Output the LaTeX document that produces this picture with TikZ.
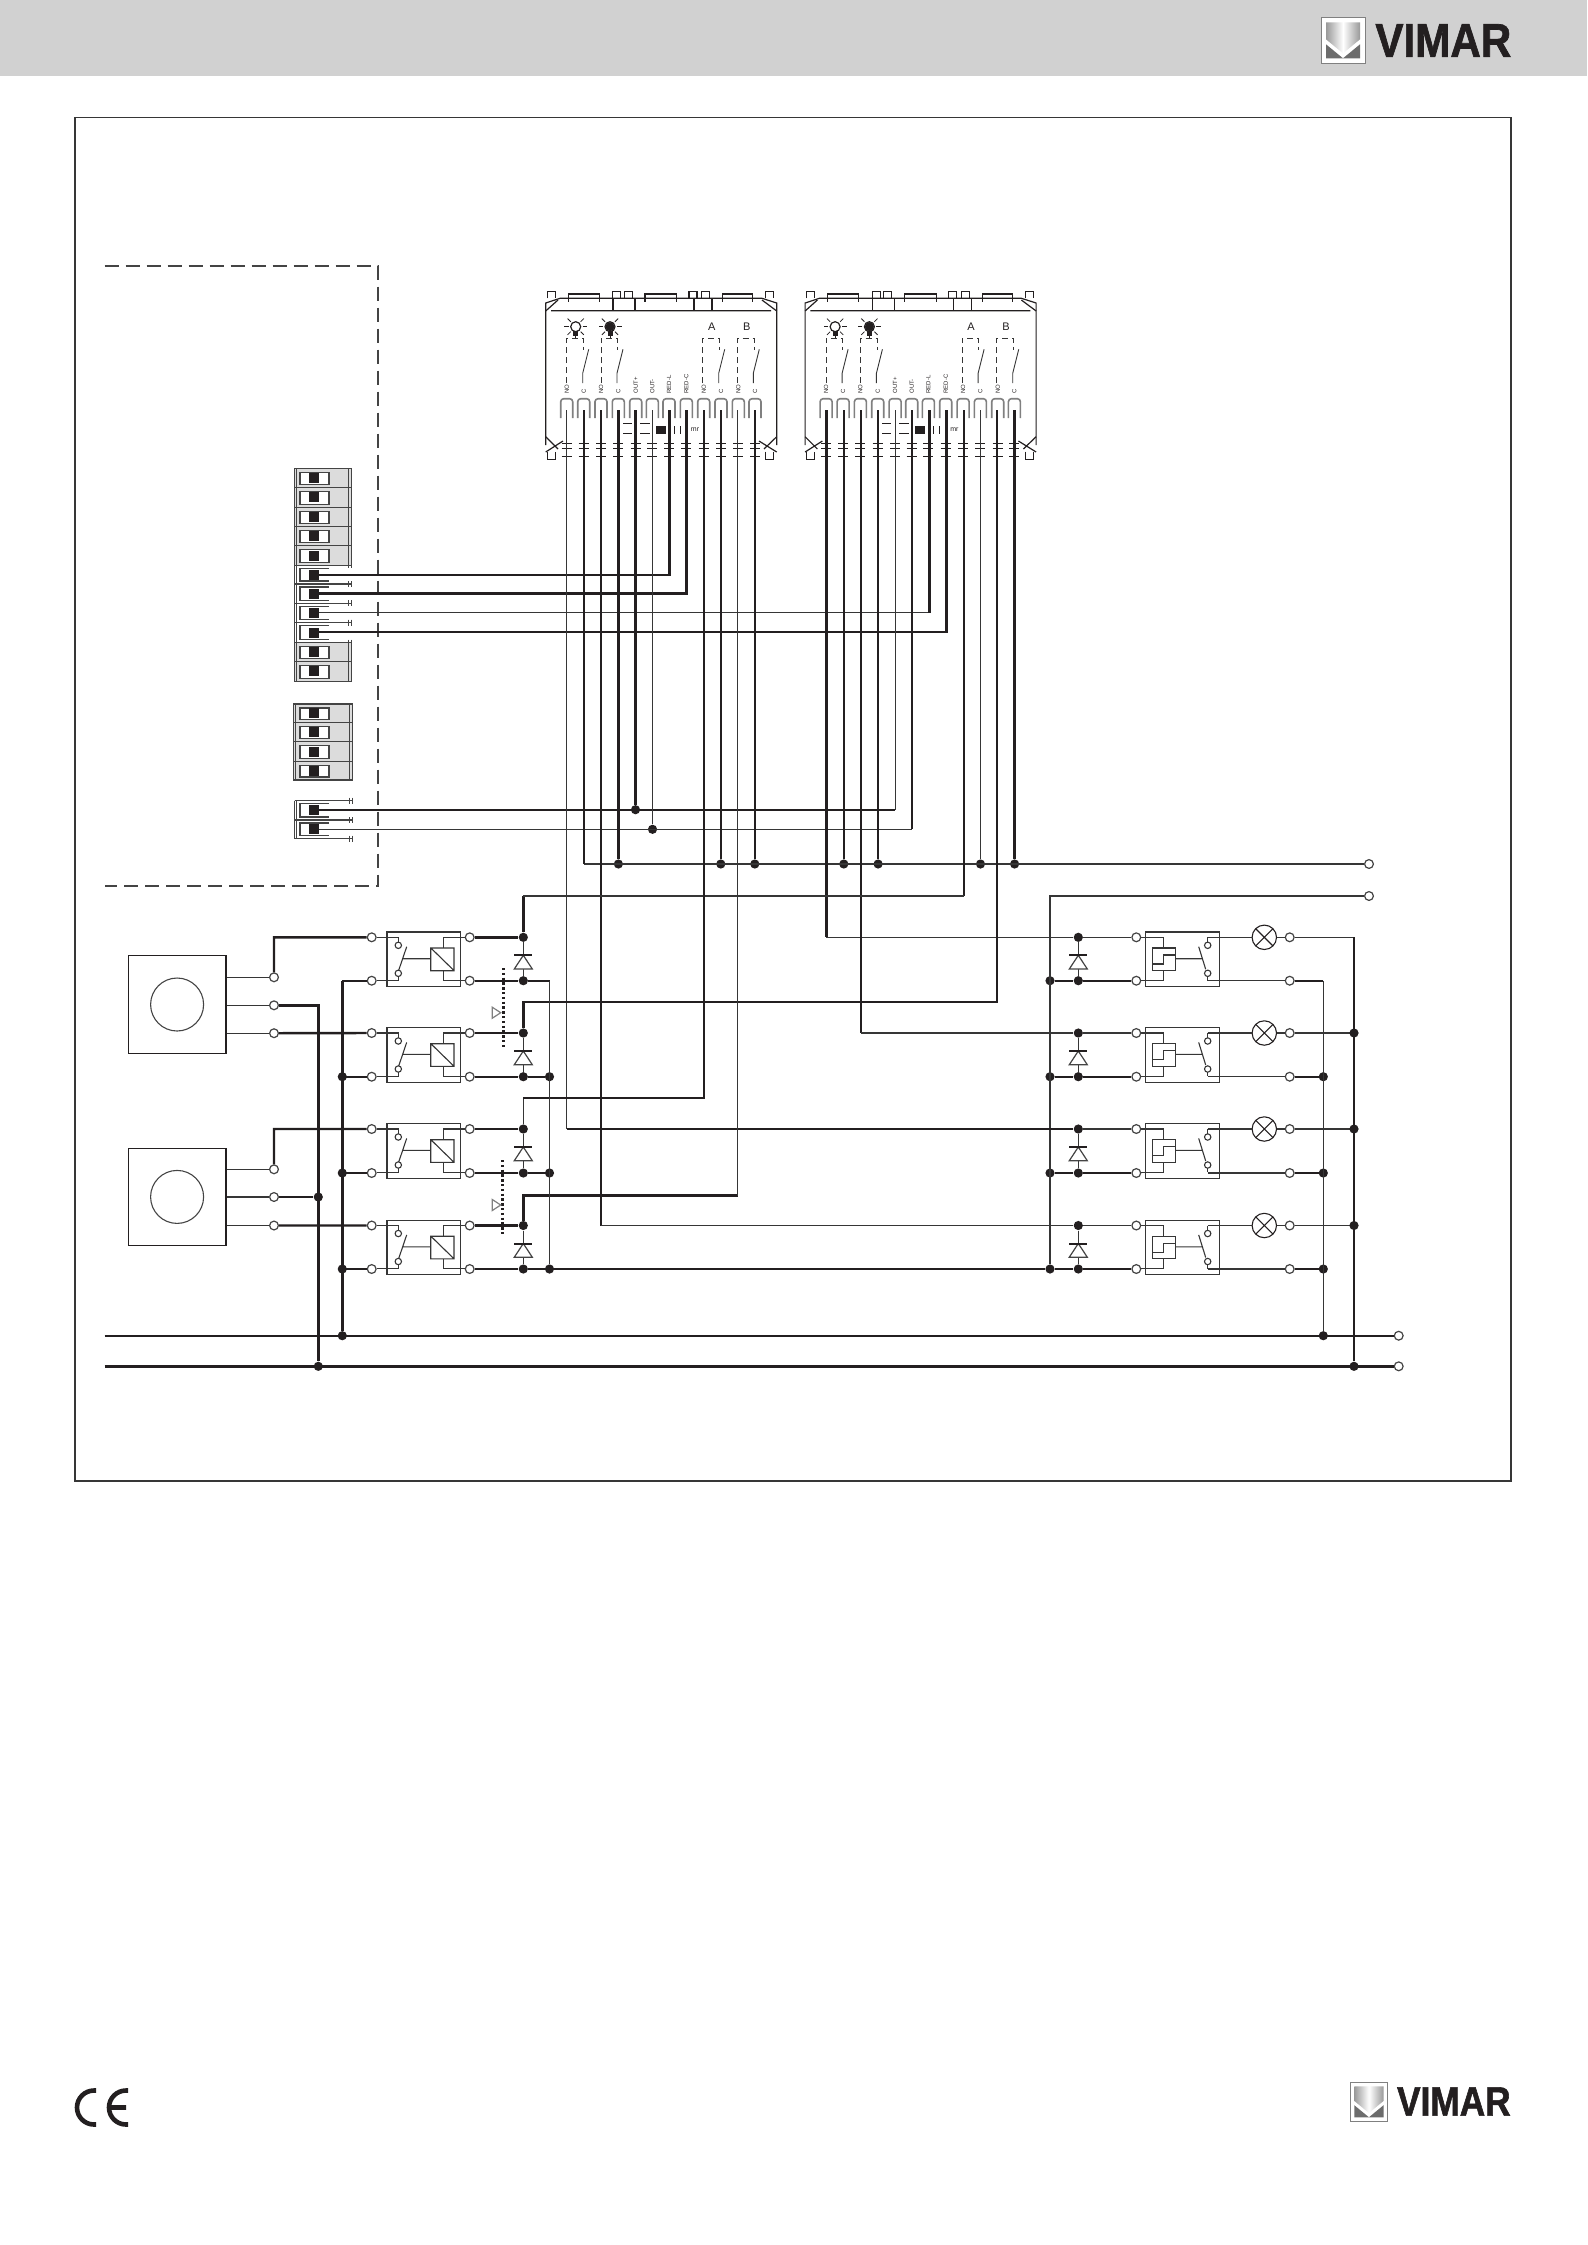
\documentclass[tikz,border=0pt]{standalone}
\usepackage{fontspec}
\setmainfont{Liberation Sans}
\newfontfamily\logofont[BoldFeatures={FakeBold=1.5}]{Liberation Sans}
\definecolor{inkdark}{HTML}{231F20}
\definecolor{inkthin}{HTML}{363636}
\definecolor{inkgrey}{HTML}{444444}
\definecolor{modgrey}{HTML}{DCDCDC}
\tikzset{
  thinw/.style={line width=.55pt,draw=inkthin},
  thickw/.style={line width=1.2pt,draw=inkdark},
  opent/.style={circle,draw=inkgrey,fill=white,line width=.6pt,minimum size=4.4pt,inner sep=0pt},
  jdot/.style={circle,fill=inkdark,minimum size=4.6pt,inner sep=0pt},
  modline/.style={line width=.55pt,draw=inkgrey},
  devline/.style={line width=.6pt,draw=inkdark},
  lampnode/.style={circle,draw=inkdark,line width=.55pt,minimum size=12.2pt,inner sep=0pt,
    path picture={\draw[line width=.55pt,inkdark]
      (path picture bounding box.north west) -- (path picture bounding box.south east)
      (path picture bounding box.north east) -- (path picture bounding box.south west);}},
  logotext/.style={text=inkdark,inner sep=0pt,anchor=west},
  % relay on the pushbutton side
  pics/relayleft/.style={code={
    \draw[thinw] (15.3,-5.3) rectangle (89,49.4);
    \draw[thinw] (5,0) -- (26.6,0) -- (26.6,4.8) (26.6,39.2) -- (26.6,43.4) -- (5,43.4);
    \draw[thinw] (26.6,8) circle (3.2) (26.6,36) circle (3.2);
    \draw[thinw] (27,33) -- (35,9.4) (31.6,21.4) -- (59,21.4);
    \draw[thinw] (59,10.7) rectangle (82.3,33.4) (60,11.5) -- (81.5,32.5);
    \draw[thinw] (93,0) -- (71.6,0) -- (71.6,10.7) (71.6,33.4) -- (71.6,43.4) -- (93,43.4);
  }},
  % relay on the lamp side
  pics/relayright/.style={code={
    \draw[thinw] (9.4,-5.3) rectangle (83,49.4);
    \draw[thinw] (5,0) -- (27,0) -- (27,10.7) (27,33.4) -- (27,43.4) -- (5,43.4);
    \draw[thinw] (16,10.7) rectangle (39,33.4);
    \draw[thinw] (16,26.7) -- (27,26.7) -- (27,17.7) -- (39,17.7);
    \draw[thinw] (39,21.4) -- (65.4,21.4) (62.4,9.4) -- (69.4,32);
    \draw[thinw] (71.4,8) circle (3.2) (71.4,36) circle (3.2);
    \draw[thinw] (71.4,4.8) -- (71.4,0) (71.4,39.2) -- (71.4,43.4);
  }},
  pics/diode/.style={code={
    \draw[line width=.6pt,draw=inkgrey,fill=white] (0,18) -- (-9,31.7) -- (9,31.7) -- cycle;
    \draw[line width=1pt,inkdark] (-9,18) -- (9,18);
  }},
  pics/pointer/.style={code={
    \draw[line width=.6pt,draw=gray,fill=white] (0,-5.5) -- (8.4,0) -- (0,5.5) -- cycle;
  }},
  pics/keypad/.style={code={
    \draw[devline] (15.7,175) -- (15.7,33) -- (30,28.3) -- (232,28.3) -- (246.7,33) -- (246.7,175);
    \draw[devline] (21,40.7) -- (241,40.7) (15.7,41) -- (28,30) (246.7,41) -- (232,30);
    \draw[devline] (83,28.3) -- (83,40.7) (105,28.3) -- (105,40.7) (164,28.3) -- (164,40.7) (182,28.3) -- (182,40.7);
    \draw[devline] (38.3,31.7) -- (38.3,24) -- (69.3,24) -- (69.3,31.7) (115,31.7) -- (115,24) -- (146.7,24) -- (146.7,31.7)
                   (192.7,31.7) -- (192.7,24) -- (222.7,24) -- (222.7,31.7);
    \foreach \xa in {17.3,82.7,94.3,159,171.7,235.7}
      \draw[devline] (\xa,28.3) -- (\xa,21.7) -- (\xa+8,21.7) -- (\xa+8,28.3);
    \foreach \xa in {17.3,235.7}
      \draw[devline] (\xa,181.7) -- (\xa,189.3) -- (\xa+8,189.3) -- (\xa+8,181.7);
    \draw[devline] (15.7,166.7) -- (28,179) (15.7,182) -- (33,171) (246.7,166.7) -- (234,179) (246.7,182) -- (229,171);
    % lamps
    \foreach \xa in {45.7,80} {
      \draw[devline] (\xa,56.7) circle (5);
      \foreach \ang in {0,45,135,180,225,315,90}
        \draw[line width=.4pt,inkdark] (\xa,56.7) ++(\ang:7) -- ++(\ang:4.5);
      \fill[inkdark] (\xa-2.5,60.7) rectangle (\xa+2.5,65.5);
    }
    \fill[inkdark] (80,56.7) circle (4.5);
    % contacts
    \foreach \xa in {36.7,71,172.7,207.3} {
      \draw[line width=.45pt,inkthin,densely dashed] (\xa,113) -- (\xa,68.3) -- (\xa+16.7,68.3) -- (\xa+16.7,80);
      \draw[line width=.45pt,inkthin] (\xa+22,79.3) -- (\xa+16,103.3) -- (\xa+16,113);
    }
    \foreach \k/\xa/\lbl in {1/36.7/NO,2/53.7/C,3/71/NO,4/88.3/C,5/105.7/OUT+,6/122.3/OUT-,7/139/RED-L,8/156.3/RED-C,9/173.7/NO,10/191/C,11/208.3/NO,12/225/C} {
      \node(lbl\k)[rotate=90,anchor=west,inner sep=0pt,text=inkdark,font=\fontsize{3}{3}\selectfont] at (\xa,124) {\lbl};
      \draw[line width=.8pt,gray,rounded corners=1.5pt] (\xa-6,148) -- (\xa-6,128.7) -- (\xa+6,128.7) -- (\xa+6,148);
      \draw[line width=.4pt,inkdark] (\xa-5,173.3) -- (\xa+5,173.3) (\xa-5,178) -- (\xa+5,178) (\xa-5,186.7) -- (\xa+5,186.7);
    }
    \node(lblA)[text=inkdark,inner sep=0pt,font=\fontsize{5.5}{5.5}\selectfont] at (181.7,56.7) {A};
    \node(lblB)[text=inkdark,inner sep=0pt,font=\fontsize{5.5}{5.5}\selectfont] at (216.7,56.7) {B};
    \fill[inkdark] (126,156) rectangle (136,163.5);
    \draw[line width=.5pt,inkdark] (144,156) -- (144,163.5) (150,156) -- (150,163.5);
    \node(lblM)[text=inkdark,inner sep=0pt,font=\fontsize{3.5}{3.5}\selectfont] at (165,160) {mr};
    \draw[line width=.4pt,inkdark] (93,153) -- (102,153) (93,163) -- (102,163) (110,153) -- (120,153) (110,163) -- (120,163);
  }},
  pics/logomark/.style={code={
    \draw[line width=.5pt,draw=gray,fill=white] (0,0) rectangle (44,46);
    \shade[left color=gray!80,right color=gray!80,middle color=white] (5,5) -- (39,5) -- (39,22) -- (22,36) -- (5,22) -- cycle;
    \fill[gray!85!black] (5,27) -- (22,41) -- (5,41) -- cycle (39,27) -- (22,41) -- (39,41) -- cycle;
  }}
}
\newcommand{\slider}[2]{%
  \fill[inkdark] (309.3,{(#1+#2)/2-5}) rectangle (318.7,{(#1+#2)/2+5});}
\newcommand{\greymod}[4]{%
  \filldraw[modline,fill=modgrey] (#1,#3) rectangle (#2,#4);
  \draw[modline] (#1+2,#3) -- (#1+2,#4) (#2-3,#3) -- (#2-3,#4);
  \draw[modline,fill=white] (300,#3+4) rectangle (329,#4-3);
  \slider{#3}{#4}}
\newcommand{\wiredmod}[4]{%
  \draw[modline] (#1,#3) -- (#1,#4) (#1+2,#3) -- (#1+2,#4) (#1,#3) -- (#2,#3) (#1,#4) -- (#2,#4);
  \draw[modline] (#2-3,#3-3) -- (#2-3,#3+3) (#2,#3-3) -- (#2,#3+3) (#2-3,#4-3) -- (#2-3,#4+3) (#2,#4-3) -- (#2,#4+3);
  \draw[modline] (329,#3+3) -- (300,#3+3) -- (300,#4-3) -- (329,#4-3);
  \slider{#3}{#4}}
\begin{document}
\begin{tikzpicture}[x=.5pt,y=-.5pt]
  \useasboundingbox (0,0) rectangle (1587,2245);
  \fill[modgrey!95!black] (0,0) rectangle (1587,76);
  \draw[thinw] (75,117.4) rectangle (1511,1481);

  % logos and mark
  \pic at (1321,17.3) {logomark};
  \node(LogoTop)[logotext,xscale=.89,font=\logofont\bfseries\fontsize{23.7}{24}\selectfont] at (1375,40.5) {VIMAR};
  \pic[scale=.86] at (1350,2082) {logomark};
  \node(LogoBot)[logotext,xscale=.86,font=\logofont\bfseries\fontsize{20.5}{21}\selectfont] at (1396.7,2101.5) {VIMAR};
  \draw[line width=2.3pt,inkdark] (96,2090.5) -- (94,2090.5) arc (270:90:17) -- (96,2124.5);
  \draw[line width=2.3pt,inkdark] (128,2090.5) -- (126,2090.5) arc (270:90:17) -- (128,2124.5) (109,2107.5) -- (126,2107.5);

  % control unit, open on its left
  \coordinate(DashTL) at (104.5,266);
  \coordinate(DashTR) at (378,266);
  \coordinate(DashBR) at (378,886);
  \coordinate(DashBL) at (104.5,886);
  \draw[thinw,draw=inkgrey,dash pattern=on 7pt off 3.5pt] (DashTL) -- (DashTR) -- (DashBR) -- (DashBL);

  \foreach \ya/\yb in {468.7/487.3,487.3/507.3,507.3/526.7,526.7/545.7,545.7/565.3,642.7/661.3,661.3/681.3}
    {\greymod{294.7}{351.3}{\ya}{\yb}}
  \foreach \ya/\yb in {565.3/584,584/603.3,603.3/622.7,622.7/642.7}
    {\wiredmod{294.7}{351.3}{\ya}{\yb}}
  \foreach \ya/\yb in {704/722.7,722.7/741.7,741.7/761.3,761.3/780}
    {\greymod{293.3}{352.7}{\ya}{\yb}}
  \foreach \ya/\yb in {800.7/820,820/838.7}
    {\wiredmod{294.7}{352.7}{\ya}{\yb}}

  \pic (Dev1) at (530,270) {keypad};
  \pic (Dev2) at (789.4,270) {keypad};

  \foreach \i/\xa in {0/566.9,1/583.7,2/601.2,3/618.4,4/635.5,5/652.5,6/669.5,7/686.4,8/703.9,9/720.8,10/737.9,11/754.8}
    \coordinate(A\i) at (\xa,410);
  \foreach \i/\xa in {0/826.3,1/843.8,2/861,3/878.1,4/895.2,5/912.2,6/929.3,7/946.3,8/964,9/980.5,10/997,11/1014.6}
    \coordinate(B\i) at (\xa,410);
  \coordinate(Blk1) at (318.7,574.7);
  \coordinate(Blk2) at (318.7,593.5);
  \coordinate(Blk3) at (318.7,612.8);
  \coordinate(Blk4) at (318.7,632);
  \coordinate(Blk5) at (318.7,809.7);
  \coordinate(Blk6) at (318.7,829.3);

  % sensors
  \node(Sen1)[draw=inkdark,line width=.55pt,minimum size=48.85pt,inner sep=0pt] at (177.1,1004.5) {};
  \node(Sen2)[draw=inkdark,line width=.55pt,minimum size=48.85pt,inner sep=0pt] at (177.1,1196.9) {};
  \node(Eye1)[circle,draw=inkgrey,line width=.55pt,minimum size=26.5pt,inner sep=0pt] at (Sen1) {};
  \node(Eye2)[circle,draw=inkgrey,line width=.55pt,minimum size=26.5pt,inner sep=0pt] at (Sen2) {};
  \node(Sa1)[opent] at (274,977.3) {};
  \node(Sb1)[opent] at (274,1005.3) {};
  \node(Sc1)[opent] at (274,1033.2) {};
  \node(Sa2)[opent] at (274,1169.3) {};
  \node(Sb2)[opent] at (274,1197) {};
  \node(Sc2)[opent] at (274,1225.5) {};

  % the four rows of relays
  \foreach \n/\ya/\yb in {1/937.3/980.7,2/1033/1076.7,3/1129/1173,4/1225.5/1269} {
    \pic at (371.7,\ya) {relayleft};
    \pic at (1136.3,\ya) {relayright};
    \node(LA\n)[opent] at (371.7,\ya) {};
    \node(LB\n)[opent] at (371.7,\yb) {};
    \node(RA\n)[opent] at (469.7,\ya) {};
    \node(RB\n)[opent] at (469.7,\yb) {};
    \node(DA\n)[jdot] at (523.3,\ya) {};
    \node(DB\n)[jdot] at (523.3,\yb) {};
    \node(CA\n)[opent] at (1136.3,\ya) {};
    \node(CB\n)[opent] at (1136.3,\yb) {};
    \node(EA\n)[jdot] at (1078.3,\ya) {};
    \node(EB\n)[jdot] at (1078.3,\yb) {};
    \node(FB\n)[jdot] at (1050,\yb) {};
    \node(Lamp\n)[lampnode] at (1264.3,\ya) {};
    \node(OA\n)[opent] at (1289.7,\ya) {};
    \node(OB\n)[opent] at (1289.7,\yb) {};
    \coordinate(CU\n) at (1207.7,\ya);
    \coordinate(CD\n) at (1207.7,\yb);
    \coordinate(Qb\n) at (1323.3,\yb);
    \coordinate(Pa\n) at (1354,\ya);
    \coordinate(Kb\n) at (549.5,\yb);
    \coordinate(Hb\n) at (342.3,\yb);
    \draw[thinw] (DA\n) -- (DB\n) (EA\n) -- (EB\n);
    \pic at (523.3,\ya) {diode};
    \pic at (1078.3,\ya) {diode};
    \draw[thickw] (RA\n) -- (DA\n) (RB\n) -- (DB\n) (EB\n) -- (CB\n) (FB\n) -- (EB\n) (Hb\n) -- (LB\n) (OB\n) -- (Qb\n);
    \draw[thinw] (EA\n) -- (CA\n) (CU\n) -- (Lamp\n) (Lamp\n) -- (OA\n) (OA\n) -- (Pa\n) (CD\n) -- (OB\n);
  }

  % junctions
  \node(JA3)[jdot] at (618.4,864) {};
  \node(JA9)[jdot] at (720.8,864) {};
  \node(JA11)[jdot] at (754.8,864) {};
  \node(JB1)[jdot] at (843.8,864) {};
  \node(JB3)[jdot] at (878.1,864) {};
  \node(JB9)[jdot] at (980.5,864) {};
  \node(JB11)[jdot] at (1014.6,864) {};
  \node(JA4)[jdot] at (635.5,809.7) {};
  \node(JA5)[jdot] at (652.5,829.3) {};
  \node(EndA)[opent] at (1369,864) {};
  \node(EndB)[opent] at (1369,896) {};
  \node(EndC)[opent] at (1398.7,1335.7) {};
  \node(EndD)[opent] at (1398.7,1366.3) {};
  \coordinate(RailC) at (104.5,1335.7);
  \coordinate(RailD) at (104.5,1366.3);
  \node(JS2)[jdot] at (318.3,1197) {};
  \node(JC1)[jdot] at (342.3,1335.7) {};
  \node(JD1)[jdot] at (318.3,1366.3) {};
  \node(JC2)[jdot] at (1323.3,1335.7) {};
  \node(JD2)[jdot] at (1354,1366.3) {};
  \node(JH2)[jdot] at (342.3,1076.7) {};
  \node(JH3)[jdot] at (342.3,1173) {};
  \node(JH4)[jdot] at (342.3,1269) {};
  \node(JK2)[jdot] at (549.5,1076.7) {};
  \node(JK3)[jdot] at (549.5,1173) {};
  \node(JK4)[jdot] at (549.5,1269) {};
  \node(JQ2)[jdot] at (1323.3,1076.7) {};
  \node(JQ3)[jdot] at (1323.3,1173) {};
  \node(JQ4)[jdot] at (1323.3,1269) {};
  \node(JP2)[jdot] at (1354,1033) {};
  \node(JP3)[jdot] at (1354,1129) {};
  \node(JP4)[jdot] at (1354,1225.5) {};
  \coordinate(Up1) at (523.3,896);
  \coordinate(Up2) at (523.3,1002);
  \coordinate(Up3) at (523.3,1098);
  \coordinate(Up4) at (523.3,1195.5);

  % wires from the control unit
  \draw[thickw] (Blk1) -| (A6) (Blk2) -| (A7) (Blk4) -| (B7) (Blk5) -| (B4 |- Blk5);
  \draw[thinw] (Blk3) -- (Blk3 -| B6) (Blk6) -- (Blk6 -| B5) (B4) -- (B4 |- Blk5);
  \draw[thickw] (B6) -- (B6 |- Blk3) (B5) -- (B5 |- Blk6);
  \draw[thickw] (A4) -- (JA4);
  \draw[thinw] (A5) -- (JA5);

  % wires of the keypads
  \draw[thinw] (A1 |- EndA) -- (EndA);
  \draw[thickw] (A1) -- (A1 |- EndA) (A3) -- (JA3) (A9) -- (JA9) (A11) -- (JA11)
                (B1) -- (JB1) (B3) -- (JB3) (B11) -- (JB11);
  \draw[thinw] (B9) -- (JB9);
  \draw[thinw] (EndB) -| (FB4);
  \draw[thinw] (A0) -- (A0 |- EA3);
  \draw[thickw] (A0 |- EA3) -- (EA3);
  \draw[thickw] (A2) -- (A2 |- EA4);
  \draw[thinw] (A2 |- EA4) -- (EA4);
  \draw[thickw] (B0) -- (B0 |- EA1);
  \draw[thinw] (B0 |- EA1) -- (EA1);
  \draw[thickw] (B2) -- (B2 |- EA2);
  \draw[thinw] (B2 |- EA2) -- (EA2);
  \draw[thickw] (DA1) -- (Up1) (Up1 -| B8) -- (B8);
  \draw[thinw] (Up1) -- (Up1 -| B8);
  \draw[thickw] (DA2) -- (Up2) -| (B10);
  \draw[thinw] (DA3) -- (Up3);
  \draw[thickw] (Up3) -| (A8);
  \draw[thickw] (DA4) -- (Up4) -- (Up4 -| A10);
  \draw[thinw] (Up4 -| A10) -- (A10);

  % supply side
  \draw[thickw] (RailC) -- (EndC) (RailD) -- (EndD);
  \draw[thickw] (DB4) -- (FB4);
  \draw[thickw] (DB1) -- (Kb1) (DB2) -- (JK2) (DB3) -- (JK3);
  \draw[thinw] (Kb1) -- (JK4);
  \draw[thinw] (Qb1) -- (JC2);
  \draw[thickw] (Pa1) -- (JD2);
  \draw[thickw] (Hb1) -- (JC1);

  % sensor wires
  \draw[thinw] (Sa1) -- (Sa1 -| Sen1.east) (Sb1) -- (Sb1 -| Sen1.east) (Sc1) -- (Sc1 -| Sen1.east)
               (Sa2) -- (Sa2 -| Sen2.east) (Sb2) -- (Sb2 -| Sen2.east) (Sc2) -- (Sc2 -| Sen2.east);
  \draw[thickw] (Sa1) |- (LA1) (Sa2) |- (LA3) (Sc1) -- (LA2) (Sc2) -- (LA4);
  \draw[thickw] (Sb1) -| (JD1) (Sb2) -- (JS2);

  % mechanical links between the relays
  \coordinate(Mech1a) at (503.3,968);
  \coordinate(Mech1b) at (503.3,1048.3);
  \coordinate(Mech2a) at (502.3,1160);
  \coordinate(Mech2b) at (502.3,1236.7);
  \draw[line width=1.7pt,inkdark,dash pattern=on 1.2pt off 1.2pt] (Mech1a) -- (Mech1b);
  \draw[line width=1.2pt,inkdark,dash pattern=on 1.2pt off 1.2pt] (Mech2a) -- (Mech2b);
  \pic at (492.3,1012.7) {pointer};
  \pic at (492.3,1205) {pointer};
\end{tikzpicture}
\end{document}
